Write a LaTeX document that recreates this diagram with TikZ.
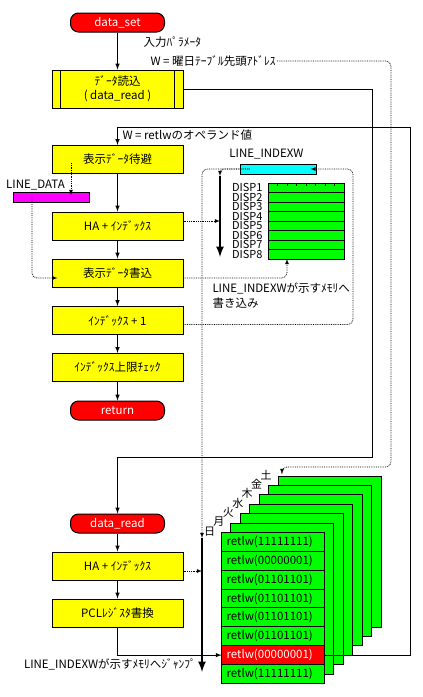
\documentclass[tikz,border=0pt]{standalone}
\usepackage{fontspec}
\setmainfont{Noto Sans CJK JP}
\usetikzlibrary{positioning}
\definecolor{boxyellow}{RGB}{255,255,0}
\definecolor{boxcyan}{RGB}{0,255,255}
\definecolor{boxmagenta}{RGB}{255,0,255}
\definecolor{boxgreen}{RGB}{0,255,0}
\definecolor{boxred}{RGB}{255,0,0}

\begin{document}
\begin{tikzpicture}[x=1pt, y=-1pt, >=latex, line width=1pt, node distance=47pt,
    font=\fontsize{11.5}{14}\selectfont]  % 1pt = 1px of the sheet
  \tikzstyle{term}=[fill=boxred, draw, text=white, rounded corners=8pt, minimum width=94pt, minimum height=19pt, inner sep=0pt]
  \tikzstyle{proc}=[fill=boxyellow, draw, minimum width=131pt, minimum height=28pt, inner sep=0pt, align=center]
  \tikzstyle{txt}=[inner sep=1pt]
  \tikzstyle{var}=[draw, minimum width=76pt, minimum height=10pt, inner sep=0pt]
  \tikzstyle{cell}=[fill=boxgreen, draw, minimum width=76pt, minimum height=9.5pt, inner sep=0pt, outer sep=0pt]
  \tikzstyle{disp}=[inner sep=0pt, font=\fontsize{11}{11}\selectfont]
  \tikzstyle{page}=[fill=boxgreen, draw, minimum width=103pt, minimum height=151pt, inner sep=0pt, outer sep=0pt]
  \tikzstyle{row}=[fill=boxgreen, draw, minimum width=103pt, minimum height=18.875pt, inner sep=0pt, outer sep=0pt, text width=93pt, align=left]
  \tikzstyle{day}=[inner sep=1pt, anchor=east, font=\fontsize{11}{12}\selectfont]
  \tikzstyle{ptr}=[densely dotted, line width=0.8pt]
  \tikzstyle{bar}=[line width=2.5pt]
  \useasboundingbox (0,0) rectangle (423,697);

  % main flow
  \node[term]                      (set)  at (117.5,22.5)                  {data\_set};
  \node[proc, minimum height=38pt] (call) [below of=set, node distance=66.5pt] {ﾃﾞｰﾀ読込\\( data\_read )};
  \node[proc]                      (save) [below of=call, node distance=70.5pt] {表示ﾃﾞｰﾀ待避};
  \node[proc]                      (ha)   [below of=save, node distance=66.5pt] {HA + ｲﾝﾃﾞｯｸｽ};
  \node[proc]                      (wr)   [below of=ha]                      {表示ﾃﾞｰﾀ書込};
  \node[proc]                      (inc)  [below of=wr, node distance=47.5pt] {ｲﾝﾃﾞｯｸｽ + 1};
  \node[proc]                      (chk)  [below of=inc]                     {ｲﾝﾃﾞｯｸｽ上限ﾁｪｯｸ};
  \node[term]                      (ret)  [below of=chk, node distance=43pt] {return};
  \draw ([xshift=9pt]call.north west) -- ([xshift=9pt]call.south west)
        ([xshift=-9pt]call.north east) -- ([xshift=-9pt]call.south east);

  % subroutine
  \node[term]                      (read) [below of=ret, node distance=113pt] {data\_read};
  \node[proc]                      (ha2)  [below of=read, node distance=42.5pt] {HA + ｲﾝﾃﾞｯｸｽ};
  \node[proc]                      (pcl)  [below of=ha2]                     {PCLﾚｼﾞｽﾀ書換};

  \node[txt, anchor=west] (inp)   at (142,42) {入力ﾊﾟﾗﾒｰﾀ};
  \node[txt, anchor=west] (param) at (149,61) {W = 曜日ﾃｰﾌﾞﾙ先頭ｱﾄﾞﾚｽ};
  \node[txt, anchor=west] (wlab)  at (121,135.5) {W = retlwのオペランド値};

  % variables
  \node[var, fill=boxmagenta] (ldata)  at (51,197) {};
  \node[txt]                  (ldataL) at (35.5,185) {LINE\_DATA};
  \node[var, fill=boxcyan]    (idx)    at (278,169) {};
  \node[txt]                  (idxL)   at (266.5,154) {LINE\_INDEXW};

  % display table
  \node[cell] (t1) at (306,187.75) {};
  \node[cell] (t2) [below=0pt of t1] {};
  \node[cell] (t3) [below=0pt of t2] {};
  \node[cell] (t4) [below=0pt of t3] {};
  \node[cell] (t5) [below=0pt of t4] {};
  \node[cell] (t6) [below=0pt of t5] {};
  \node[cell] (t7) [below=0pt of t6] {};
  \node[cell] (t8) [below=0pt of t7] {};
  \draw[line width=0.8pt] (t1.north west) ++(9.5,0) -- ++(0,3) ++(9.5,-3) -- ++(0,3) ++(9.5,-3) -- ++(0,3)
        ++(9.5,-3) -- ++(0,3) ++(9.5,-3) -- ++(0,3) ++(9.5,-3) -- ++(0,3) ++(9.5,-3) -- ++(0,3);
  \node[disp] (d1) [left=5pt of t1] {DISP1};
  \node[disp] (d2) [left=5pt of t2] {DISP2};
  \node[disp] (d3) [left=5pt of t3] {DISP3};
  \node[disp] (d4) [left=5pt of t4] {DISP4};
  \node[disp] (d5) [left=5pt of t5] {DISP5};
  \node[disp] (d6) [left=5pt of t6] {DISP6};
  \node[disp] (d7) [left=5pt of t7] {DISP7};
  \node[disp] (d8) [left=5pt of t8] {DISP8};
  \node[txt, anchor=west, align=left, font=\fontsize{11.5}{15}\selectfont] (wnote) at (211,295.5)
       {LINE\_INDEXWが示すﾒﾓﾘへ\\書き込み};

  % week table, back to front
  \node[page] (sat) at (329.5,551.5) {};
  \node[page] (fri) [below left of=sat, node distance=13.3pt] {};
  \node[page] (thu) [below left of=fri, node distance=13.3pt] {};
  \node[page] (wed) [below left of=thu, node distance=13.3pt] {};
  \node[page] (tue) [below left of=wed, node distance=13.3pt] {};
  \node[page] (mon) [below left of=tue, node distance=13.3pt] {};
  \node[page] (sun) [below left of=mon, node distance=13.3pt] {};
  \node[day] (satL) at ([xshift=-5pt,yshift=1pt]sat.north west) {土};
  \node[day] (friL) at ([xshift=-5pt,yshift=1pt]fri.north west) {金};
  \node[day] (thuL) at ([xshift=-5pt,yshift=1pt]thu.north west) {木};
  \node[day] (wedL) at ([xshift=-5pt,yshift=1pt]wed.north west) {水};
  \node[day] (tueL) at ([xshift=-5pt,yshift=1pt]tue.north west) {火};
  \node[day] (monL) at ([xshift=-5pt,yshift=1pt]mon.north west) {月};
  \node[day] (sunL) at ([xshift=-5pt,yshift=1pt]sun.north west) {日};
  \node[row] (r1) [below=0pt of sun.north] {retlw(11111111)};
  \node[row] (r2) [below=0pt of r1] {retlw(00000001)};
  \node[row] (r3) [below=0pt of r2] {retlw(01101101)};
  \node[row] (r4) [below=0pt of r3] {retlw(01101101)};
  \node[row] (r5) [below=0pt of r4] {retlw(01101101)};
  \node[row] (r6) [below=0pt of r5] {retlw(01101101)};
  \node[row, fill=boxred, text=white] (r7) [below=0pt of r6] {retlw(00000001)};
  \node[row] (r8) [below=0pt of r7] {retlw(11111111)};
  \node[txt] (jmp) at (110,664) {LINE\_INDEXWが示すﾒﾓﾘへｼﾞｬﾝﾌﾟ};

  % index bars
  \coordinate (b1s) at (220,176);
  \coordinate (b1e) at (220,257);
  \coordinate (b2s) at (202,538);
  \coordinate (b2e) at (202,672);
  \draw[bar, ->] (b1s) -- (b1e);
  \draw[bar, ->] (b2s) -- (b2e);

  % control flow
  \draw[->] (set) -- (call);
  \draw[->] (save) -- (ha);
  \draw[->] (ha) -- (wr);
  \draw[->] (wr) -- (inc);
  \draw[->] (inc) -- (chk);
  \draw[->] (chk) -- (ret);
  \draw[->] (read) -- (ha2);
  \draw[->] (ha2) -- (pcl);
  \draw[->] (call.east) -| (372,457) -| (read.north);
  \draw[->] (r7.east) -| (410,127) -| (save.north);
  \draw[->] (pcl.south) |- (r7.west);

  % data flow
  \draw[ptr, ->, rounded corners=5pt] (param.east) -| (391,467) -| ([xshift=4pt,yshift=2pt]sat.north west);
  \draw[ptr, ->, rounded corners=5pt] ([xshift=10pt]idx.west) -| (b2s);
  \draw[ptr, ->, rounded corners=4pt] ([xshift=10pt]idx.west) -| (b1s);
  \draw[ptr, ->, rounded corners=5pt] ([yshift=-4pt]inc.east) -| (353,169) -- ([xshift=-6pt]idx.east);
  \draw[ptr, ->] ([yshift=5pt]ha.east) -- ([yshift=5pt]ha.east -| b1s);
  \draw[ptr, ->, rounded corners=5pt] ([yshift=-5pt]wr.east) -| ([xshift=-19pt]t8.south);
  \draw[ptr, ->] ([xshift=-46.5pt,yshift=-3.5pt]save.center) -- ([xshift=-46.5pt,yshift=-3.5pt]save.center |- ldata.north);
  \draw[ptr, ->, rounded corners=5pt] ([xshift=-19pt]ldata.center) |- ([xshift=6pt,yshift=-5pt]wr.west);
  \draw[ptr, ->] ([yshift=-5pt]ha2.east) -- ([yshift=-5pt]ha2.east -| b2s);
\end{tikzpicture}
\end{document}
